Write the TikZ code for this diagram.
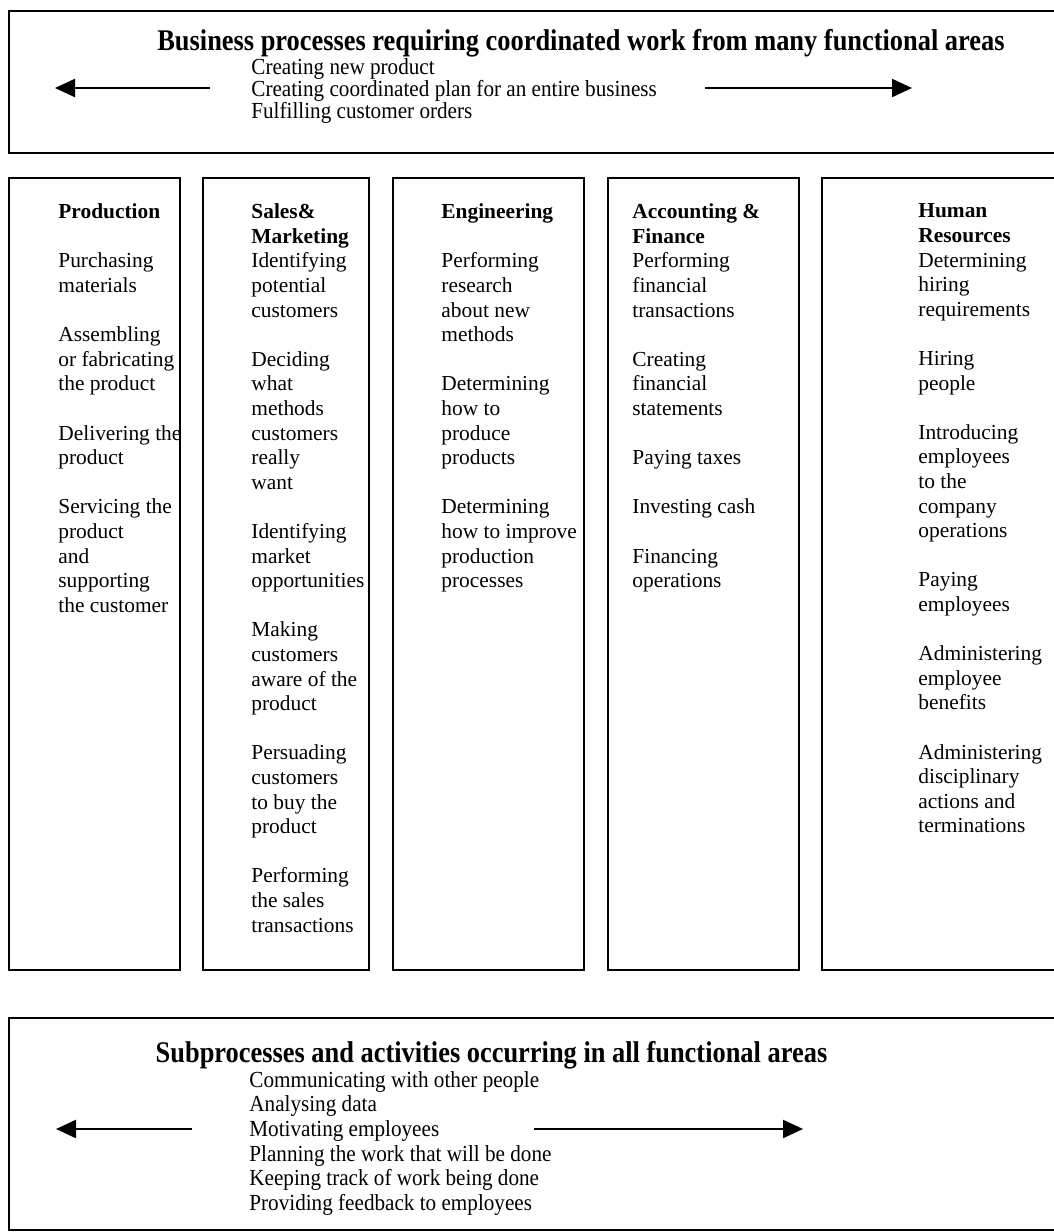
\documentclass[tikz,border=0pt]{standalone}
\usepackage{fontspec}
\setmainfont{Liberation Serif}
\newfontfamily\narrowfont[FakeStretch=0.92]{Liberation Serif}
\newfontfamily\headfont[FakeStretch=0.88]{Liberation Serif}
\usetikzlibrary{arrows.meta}
\newcommand{\itemgap}{\\[12.3pt]}
\tikzset{arr/.style={line width=1.1pt, -{Triangle[length=10pt,width=9pt]}},
  band/.style={draw, line width=1pt, anchor=north west, inner sep=0pt, minimum width=531pt},
  area/.style={draw, line width=0.8pt, anchor=north west, inner sep=0pt, minimum height=396pt},
  items/.style={anchor=north west, inner sep=0pt, align=left, font=\fontsize{10.7}{12.3}\selectfont},
  bandhead/.style={anchor=base, inner sep=0pt, font=\headfont\bfseries\fontsize{15}{16}\selectfont},
  bandlist/.style={anchor=north west, inner sep=0pt, align=left}}

\begin{document}
\begin{tikzpicture}[x=0.5pt,y=-0.5pt]
  \useasboundingbox (0,0) rectangle (1054,1232);
  \clip (0,0) rectangle (1054,1232);
  \node[band, minimum height=71pt] (top) at (8,10) {};
  \node[bandhead] (toptitle) at (581,50) {Business processes requiring coordinated work from many functional areas};
  \node[bandlist, font=\narrowfont\fontsize{11.5}{11}\selectfont] (toplist) at (251,58)
    {Creating new product\\ Creating coordinated plan for an entire business\\ Fulfilling customer orders};
  \coordinate (tl0) at (210,88);
  \coordinate (tl1) at (55,88);
  \coordinate (tr0) at (705,88);
  \coordinate (tr1) at (912,88);
  \draw[arr] (tl0) -- (tl1);
  \draw[arr] (tr0) -- (tr1);

  \node[area, minimum width=85.5pt] (prodbox) at (8,177) {};
  \node[area, minimum width=83pt] (salesbox) at (202,177) {};
  \node[area, minimum width=95.5pt] (engbox) at (392,177) {};
  \node[area, minimum width=95.5pt] (accbox) at (607,177) {};
  \node[area, minimum width=124.5pt] (hrbox) at (821,177) {};

  \node[items] (prod) at (58,203.5) {\textbf{Production}\itemgap
    Purchasing\\ materials\itemgap
    Assembling\\ or fabricating\\ the product\itemgap
    Delivering the\\ product\itemgap
    Servicing the\\ product\\ and\\ supporting\\ the customer};
  \node[items] (sales) at (251,203.5) {\textbf{Sales\&}\\ \textbf{Marketing}\\
    Identifying\\ potential\\ customers\itemgap
    Deciding\\ what\\ methods\\ customers\\ really\\ want\itemgap
    Identifying\\ market\\ opportunities\itemgap
    Making\\ customers\\ aware of the\\ product\itemgap
    Persuading\\ customers\\ to buy the\\ product\itemgap
    Performing\\ the sales\\ transactions};
  \node[items] (eng) at (441,203.5) {\textbf{Engineering}\itemgap
    Performing\\ research\\ about new\\ methods\itemgap
    Determining\\ how to\\ produce\\ products\itemgap
    Determining\\ how to improve\\ production\\ processes};
  \node[items] (acc) at (632,203.5) {\textbf{Accounting \&}\\ \textbf{Finance}\\
    Performing\\ financial\\ transactions\itemgap
    Creating\\ financial\\ statements\itemgap
    Paying taxes\itemgap
    Investing cash\itemgap
    Financing\\ operations};
  \node[items] (hr) at (918,203.5) {\textbf{Human}\\ \textbf{Resources}\\
    Determining\\ hiring\\ requirements\itemgap
    Hiring\\ people\itemgap
    Introducing\\ employees\\ to the\\ company\\ operations\itemgap
    Paying\\ employees\itemgap
    Administering\\ employee\\ benefits\itemgap
    Administering\\ disciplinary\\ actions and\\ terminations};

  \node[band, minimum height=106pt] (bottom) at (8,1017) {};
  \node[bandhead] (bottomtitle) at (491.5,1062) {Subprocesses and activities occurring in all functional areas};
  \node[bandlist, font=\narrowfont\fontsize{11.5}{12.3}\selectfont] (bottomlist) at (249,1071)
    {Communicating with other people\\ Analysing data\\ Motivating employees\\
     Planning the work that will be done\\ Keeping track of work being done\\ Providing feedback to employees};
  \coordinate (bl0) at (192,1129);
  \coordinate (bl1) at (56,1129);
  \coordinate (br0) at (534,1129);
  \coordinate (br1) at (803,1129);
  \draw[arr] (bl0) -- (bl1);
  \draw[arr] (br0) -- (br1);
\end{tikzpicture}
\end{document}
